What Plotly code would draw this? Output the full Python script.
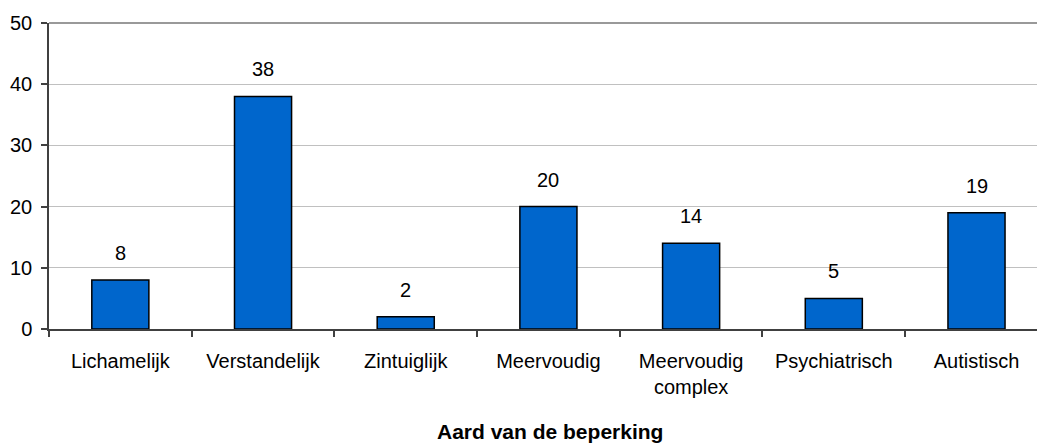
import plotly.graph_objects as go

categories = ['Lichamelijk', 'Verstandelijk', 'Zintuiglijk', 'Meervoudig',
              'Meervoudig<br>complex', 'Psychiatrisch', 'Autistisch']
values = [8, 38, 2, 20, 14, 5, 19]
y_ticks = [0, 10, 20, 30, 40, 50]
x_title = 'Aard van de beperking'

FONT = 'Liberation Sans, Arial, sans-serif'
AXIS = '#404040'

fig = go.Figure(go.Bar(
    x=categories,
    y=values,
    width=0.4,
    marker=dict(color='#0066cc', line=dict(color='#000000', width=1.5)),
    hoverinfo='x+y',
))

# value labels floating above each bar
for cat, val in zip(categories, values):
    fig.add_annotation(
        x=cat, y=val, text=str(val), showarrow=False,
        yanchor='bottom', yshift=14,
        font=dict(family=FONT, size=20, color='#000000'),
    )

# axis title, centred on the full (partly cropped) category band
fig.add_annotation(
    text='<b>' + x_title + '</b>', showarrow=False,
    xref='paper', x=0.5066, yref='paper', y=0,
    xanchor='center', yanchor='middle', yshift=-102,
    font=dict(family=FONT, size=21, color='#000000'),
)

# top frame line at 50
fig.add_shape(type='line', xref='paper', yref='y domain',
              x0=0, x1=1, y0=1, y1=1,
              line=dict(color='#999999', width=2))

fig.update_layout(
    width=1037,
    height=446,
    margin=dict(l=49, r=0, t=23, b=117, autoexpand=False),
    plot_bgcolor='#ffffff',
    paper_bgcolor='#ffffff',
    showlegend=False,
    font=dict(family=FONT, size=20, color='#000000'),
    xaxis=dict(
        range=[-0.5, 6.424],
        automargin=False,
        showline=True, linecolor=AXIS, linewidth=1.5,
        ticks='outside', tickson='boundaries', ticklen=6,
        tickcolor=AXIS, tickwidth=1.5,
        ticklabelstandoff=13,
        showgrid=False,
    ),
    yaxis=dict(
        range=[0, 50],
        automargin=False,
        tickvals=y_ticks,
        showline=True, linecolor=AXIS, linewidth=1.5,
        ticks='outside', ticklen=6, tickcolor=AXIS, tickwidth=1.5,
        ticklabelstandoff=5,
        gridcolor='#c0c0c0', gridwidth=1,
        zeroline=False,
    ),
)

# drop the browser's default 8px body margin so the figure fills the window
fig.write_html('out.html', config={'displayModeBar': False},
               post_script="document.body.style.margin = '0';")
